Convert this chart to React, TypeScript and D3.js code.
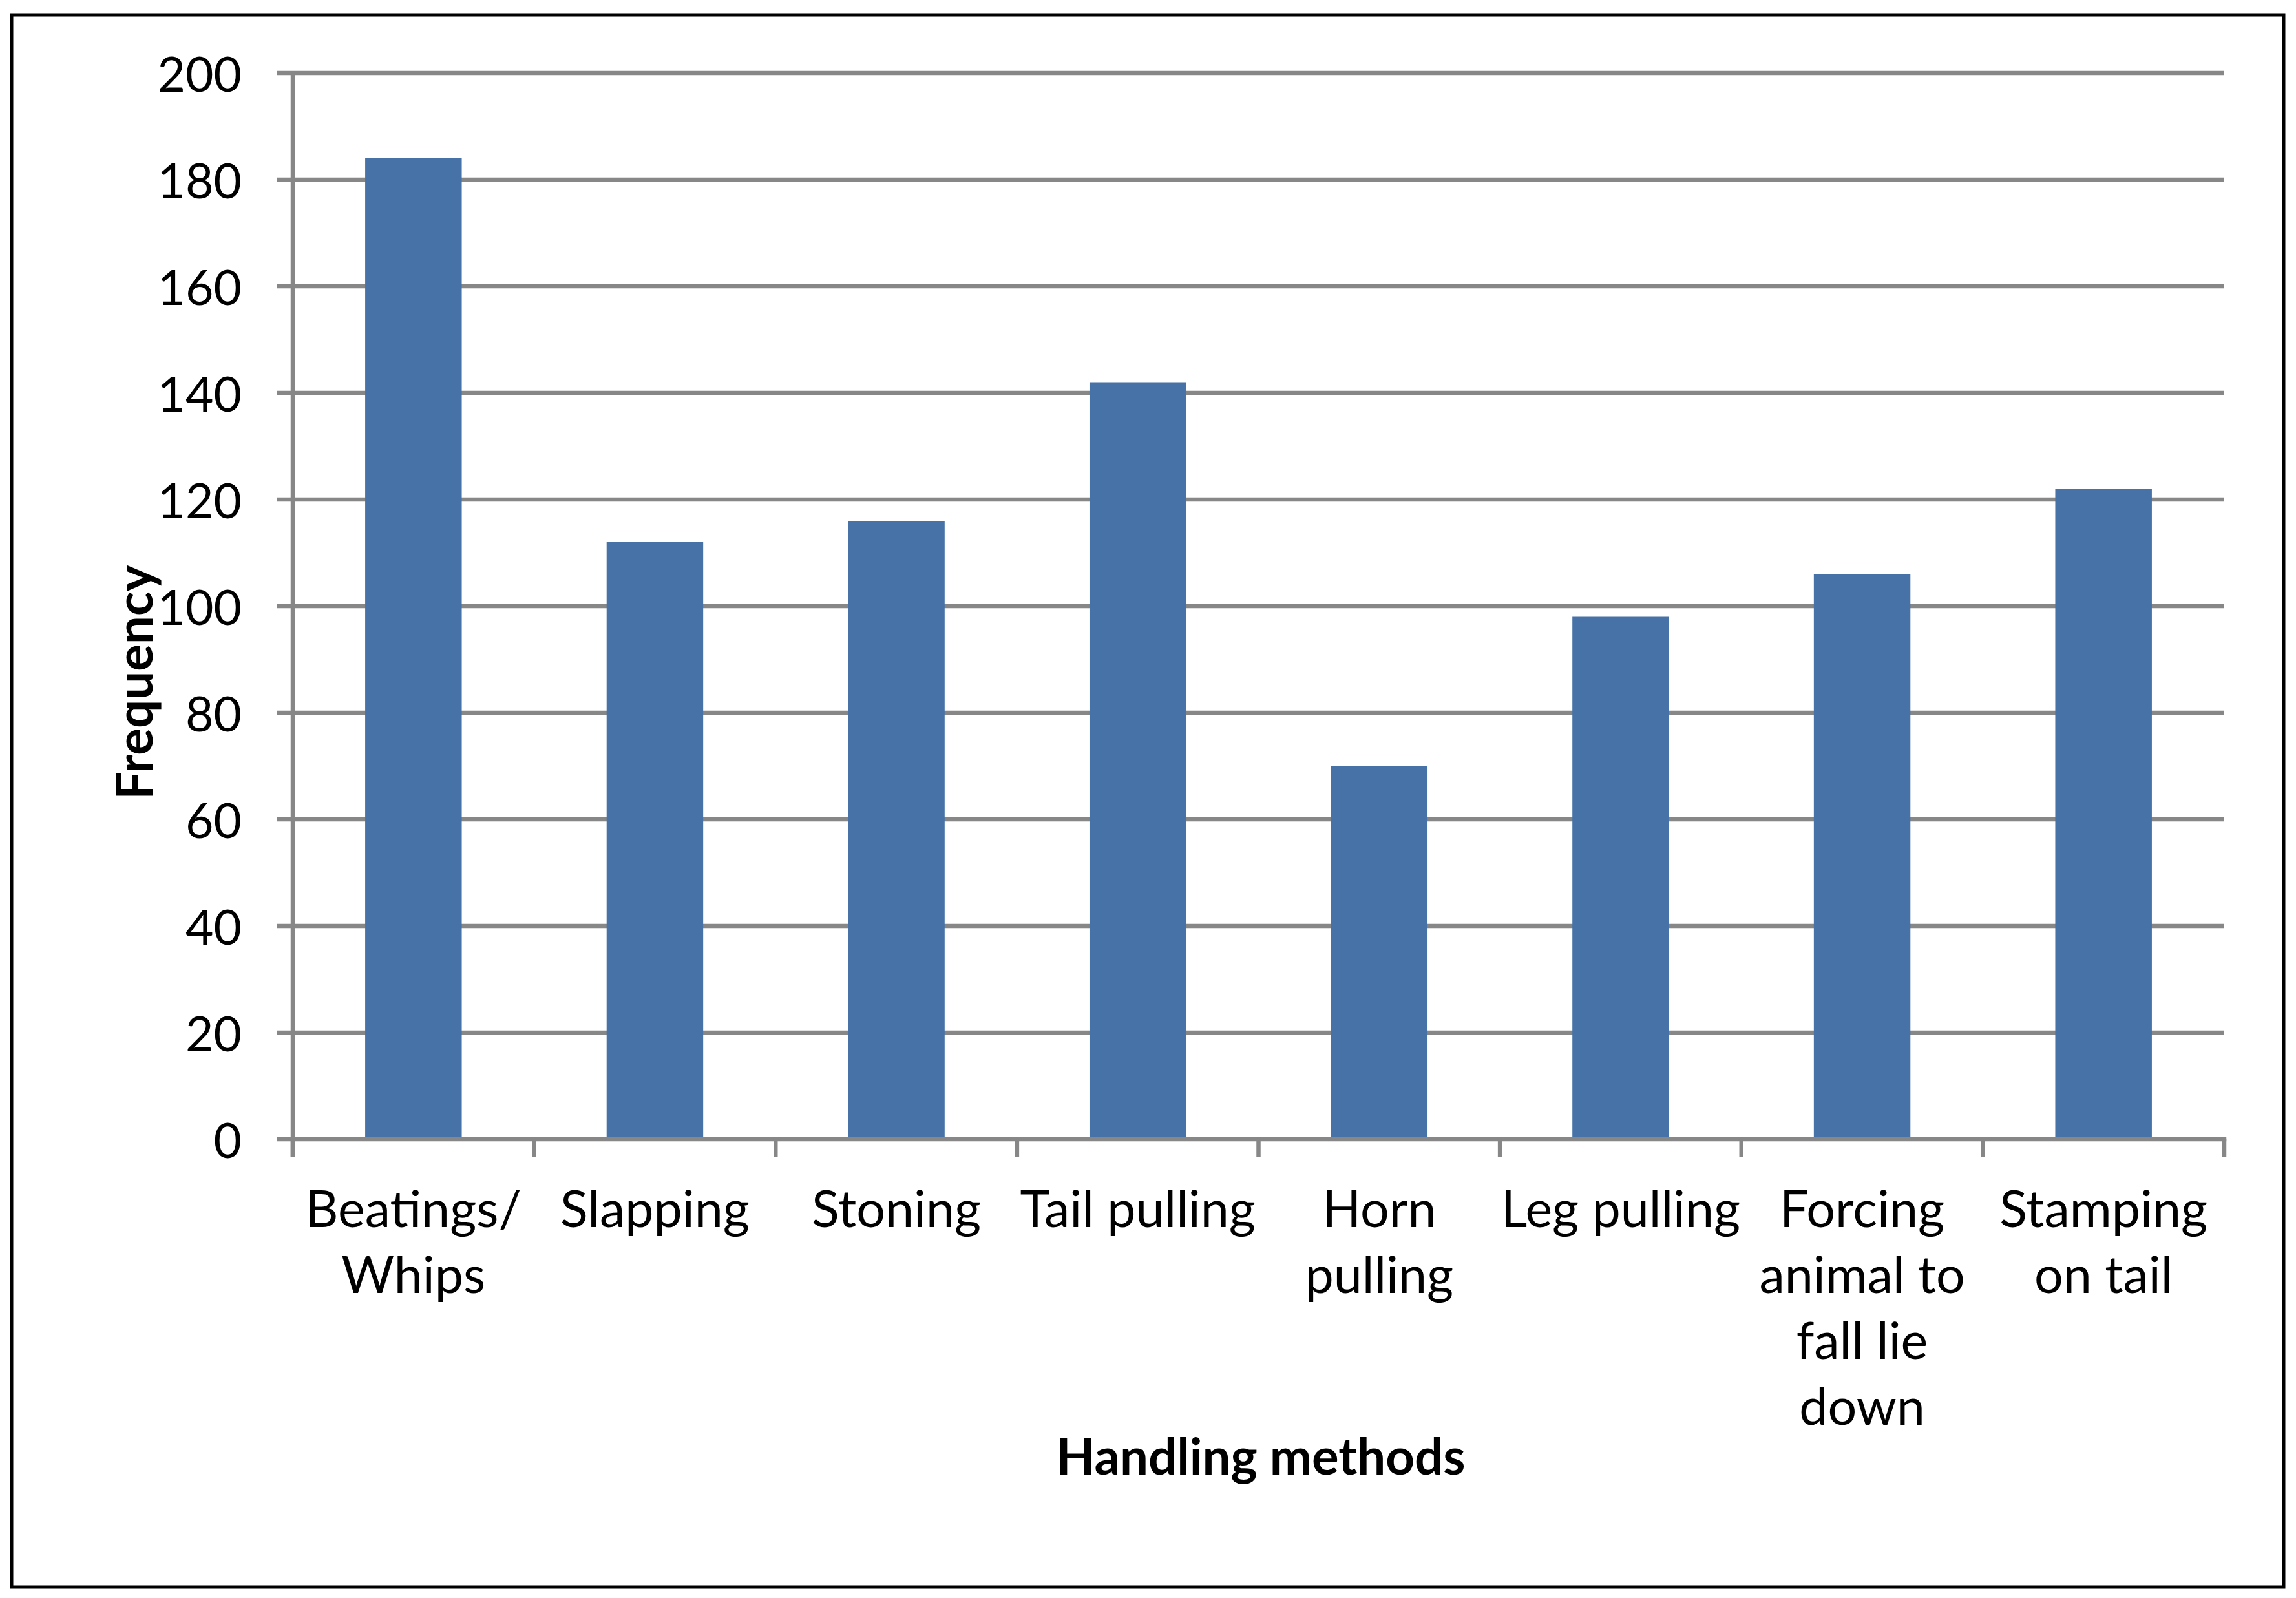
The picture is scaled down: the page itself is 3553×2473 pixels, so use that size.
import React, { useEffect, useRef } from "react";
import * as d3 from "d3";

const categories = [
  "Beatings/ Whips",
  "Slapping",
  "Stoning",
  "Tail pulling",
  "Horn pulling",
  "Leg pulling",
  "Forcing animal to fall lie down",
  "Stamping on tail",
];
const labelLines = [
  ["Beatings/", "Whips"],
  ["Slapping"],
  ["Stoning"],
  ["Tail pulling"],
  ["Horn", "pulling"],
  ["Leg pulling"],
  ["Forcing", "animal to", "fall lie", "down"],
  ["Stamping", "on tail"],
];
const frequency = [184, 112, 116, 142, 70, 98, 106, 122];
const yTicks = [0, 20, 40, 60, 80, 100, 120, 140, 160, 180, 200];
const xTitle = "Handling methods";
const yTitle = "Frequency";

const W = 3553;
const H = 2473;
const FONT = "Lato, 'Open Sans', sans-serif";

export default function App() {
  const ref = useRef<SVGSVGElement | null>(null);

  useEffect(() => {
    const svg = d3.select(ref.current);
    svg.selectAll("*").remove();

    const left = 453, right = 3442, top = 113, bottom = 1763;
    const x = d3.scaleBand<string>().domain(categories).range([left, right]).paddingInner(0.6).paddingOuter(0.3);
    const xb = d3.scaleBand<string>().domain(categories).range([left, right]);
    const y = d3.scaleLinear().domain([0, 200]).range([bottom, top]);

    svg.append("rect").attr("x", 0).attr("y", 0).attr("width", W).attr("height", H).attr("fill", "#fff");
    svg.append("rect").attr("x", 18).attr("y", 23).attr("width", 3534 - 18).attr("height", 2456 - 23)
      .attr("fill", "none").attr("stroke", "#000").attr("stroke-width", 5);

    const grid = "#878787";
    const sw = 6.5;
    svg.append("g").selectAll("line").data(yTicks.filter((t) => t > 0)).join("line")
      .attr("x1", left - 24).attr("x2", right)
      .attr("y1", (d) => y(d)).attr("y2", (d) => y(d))
      .attr("stroke", grid).attr("stroke-width", sw);

    svg.append("g").selectAll("rect").data(frequency).join("rect")
      .attr("x", (_d, i) => x(categories[i])!)
      .attr("width", x.bandwidth())
      .attr("y", (d) => y(d))
      .attr("height", (d) => y(0) - y(d))
      .attr("fill", "#4672a7");

    svg.append("line").attr("x1", left).attr("x2", left).attr("y1", top).attr("y2", bottom + 28)
      .attr("stroke", grid).attr("stroke-width", sw);
    svg.append("line").attr("x1", left - 24).attr("x2", right + sw / 2).attr("y1", bottom).attr("y2", bottom)
      .attr("stroke", grid).attr("stroke-width", sw);
    const bounds = categories.map((c) => xb(c)!).concat([right]);
    svg.append("g").selectAll("line").data(bounds).join("line")
      .attr("x1", (d) => d).attr("x2", (d) => d)
      .attr("y1", bottom).attr("y2", bottom + 28)
      .attr("stroke", grid).attr("stroke-width", sw);

    svg.append("g").selectAll("text").data(yTicks).join("text")
      .attr("x", 374).attr("y", (d) => y(d))
      .attr("text-anchor", "end").attr("dominant-baseline", "central")
      .attr("font-family", FONT).attr("font-size", 75).attr("fill", "#000")
      .text((d) => String(d));

    const lg = svg.append("g");
    labelLines.forEach((lines, i) => {
      const cx = xb(categories[i])! + xb.bandwidth() / 2;
      lines.forEach((ln, j) => {
        lg.append("text").attr("x", cx).attr("y", 1868 + j * 102)
          .attr("text-anchor", "middle").attr("dominant-baseline", "central")
          .attr("font-family", FONT).attr("font-size", 79).attr("fill", "#000")
          .text(ln);
      });
    });

    svg.append("text").attr("x", 1951).attr("y", 2252)
      .attr("text-anchor", "middle").attr("dominant-baseline", "central")
      .attr("font-family", FONT).attr("font-weight", "bold").attr("font-size", 78)
      .text(xTitle);
    svg.append("text").attr("transform", `translate(206,1056) rotate(-90)`)
      .attr("text-anchor", "middle").attr("dominant-baseline", "central")
      .attr("font-family", FONT).attr("font-weight", "bold").attr("font-size", 78)
      .text(yTitle);
  }, []);

  return (
    <svg ref={ref} width={W} height={H} style={{ position: "absolute", left: 0, top: 0, display: "block" }} />
  );
}
